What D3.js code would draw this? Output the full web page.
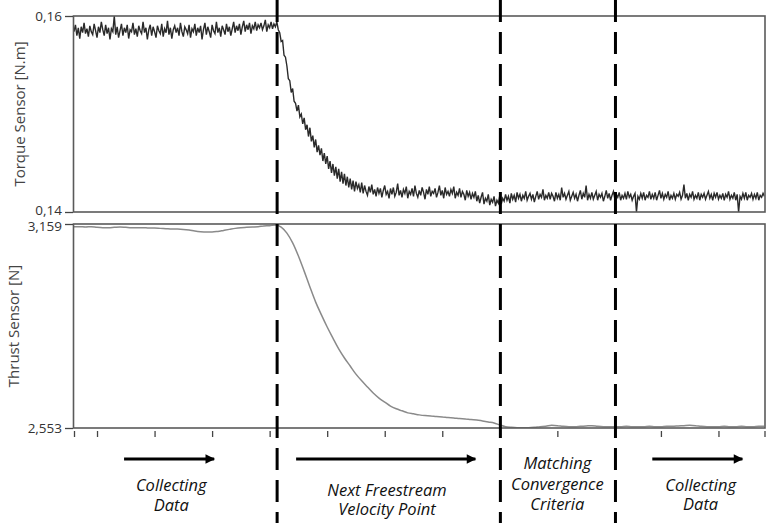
<!DOCTYPE html>
<html><head><meta charset="utf-8">
<script src="https://cdn.jsdelivr.net/npm/d3@7"></script>
<style>body{margin:0;background:#fff}svg{display:block}</style>
</head><body>
<svg id="c" width="766" height="523"></svg>
<script>
// ---------------- DATA ----------------
const timeDomain = [0, 120];
const timeTicks = [0, 4, 14, 24, 34, 44, 54, 64, 74, 84, 94, 102, 112, 120];

const torqueDomain = [0.14, 0.16];
const torqueTicks = [0.14, 0.16];
const torqueTickLabels = ["0,14", "0,16"];
const torqueTitle = "Torque Sensor [N.m]";

const thrustDomain = [2.553, 3.159];
const thrustTicks = [2.553, 3.159];
const thrustTickLabels = ["2,553", "3,159"];
const thrustTitle = "Thrust Sensor [N]";

const torqueStep = 0.25; // s between torque samples
const torque = [
  .1584,.1591,.1580,.1588,.1577,.1589,.1583,.1593,.1582,.1587,
  .1579,.1590,.1584,.1581,.1592,.1585,.1578,.1589,.1583,.1594,
  .1586,.1580,.1591,.1582,.1588,.1576,.1587,.1584,.1600,.1581,
  .1589,.1578,.1585,.1592,.1580,.1588,.1583,.1591,.1577,.1586,
  .1584,.1593,.1581,.1587,.1579,.1590,.1585,.1582,.1594,.1583,
  .1588,.1576,.1586,.1591,.1580,.1589,.1584,.1578,.1590,.1585,
  .1582,.1592,.1579,.1587,.1583,.1595,.1581,.1588,.1577,.1586,
  .1590,.1583,.1588,.1580,.1593,.1584,.1579,.1589,.1586,.1582,
  .1591,.1578,.1587,.1584,.1592,.1580,.1588,.1583,.1590,.1576,
  .1586,.1593,.1581,.1589,.1584,.1578,.1591,.1585,.1582,.1594,
  .1583,.1588,.1579,.1590,.1586,.1581,.1592,.1584,.1589,.1580,
  .1587,.1594,.1583,.1590,.1585,.1592,.1581,.1589,.1595,.1584,
  .1591,.1586,.1593,.1582,.1590,.1587,.1594,.1585,.1591,.1588,
  .1593,.1586,.1590,.1596,.1584,.1591,.1588,.1594,.1587,.1592,
  .1589,.1594,
  .1586,.1583,.1574,.1575,.1560,.1558,.1549,.1536,.1534,.1522,
  .1526,.1513,.1511,.1503,.1509,.1497,.1500,.1490,.1496,.1484,
  .1489,.1477,.1486,.1472,.1478,.1466,.1474,.1461,.1468,.1458,
  .1465,.1452,.1460,.1449,.1457,.1444,.1452,.1440,.1449,.1437,
  .1446,.1434,.1444,.1431,.1441,.1429,.1439,.1427,.1436,.1425,
  .1434,.1423,.1432,.1421,.1431,.1424,.1428,.1420,.1430,
  .1419,.1427,.1421,.1417,.1426,.1420,.1428,.1418,.1423,.1416,
  .1425,.1419,.1424,.1415,.1422,.1427,.1418,.1421,.1414,.1424,
  .1418,.1425,.1416,.1420,.1429,.1417,.1422,.1415,.1423,.1419,
  .1426,.1414,.1421,.1418,.1424,.1416,.1427,.1419,.1415,.1422,
  .1417,.1425,.1420,.1413,.1423,.1418,.1426,.1416,.1421,.1419,
  .1424,.1415,.1420,.1427,.1417,.1422,.1414,.1425,.1418,.1421,
  .1416,.1423,.1419,.1426,.1414,.1420,.1417,.1424,.1415,.1421,
  .1418,.1412,.1422,.1416,.1420,.1413,.1419,.1415,.1421,.1411,
  .1417,.1409,.1415,.1420,.1408,.1414,.1411,.1418,.1407,.1413,
  .1410,.1416,.1406,.1412,.1409,.1417,.1408,.1414,.1411,.1418,
  .1412,.1416,.1409,.1419,.1413,.1417,.1410,.1420,.1414,.1418,
  .1411,.1417,.1414,.1421,.1412,.1416,.1419,.1413,.1418,.1410,
  .1416,.1421,.1413,.1418,.1415,.1423,.1412,.1417,.1414,.1420,
  .1413,.1419,.1416,.1411,.1420,.1414,.1418,.1412,.1425,.1415,
  .1419,.1413,.1417,.1421,.1412,.1416,.1420,.1414,.1418,.1411,
  .1417,.1422,.1413,.1419,.1415,.1427,.1412,.1418,.1414,.1420,
  .1413,.1417,.1421,.1412,.1418,.1415,.1419,.1411,.1416,.1422,
  .1414,.1419,.1412,.1417,.1421,.1413,.1418,.1415,.1420,.1412,
  .1417,.1414,.1419,.1413,.1421,.1415,.1418,.1412,.1416,.1419,
  .1400,.1416,.1413,.1419,.1414,.1420,.1412,.1417,.1415,.1421,
  .1413,.1418,.1414,.1420,.1412,.1417,.1422,.1414,.1419,.1413,
  .1418,.1415,.1421,.1412,.1417,.1414,.1419,.1413,.1418,.1416,
  .1420,.1413,.1417,.1428,.1414,.1419,.1412,.1418,.1415,.1421,
  .1413,.1417,.1414,.1420,.1412,.1418,.1415,.1419,.1413,.1417,
  .1421,.1414,.1418,.1412,.1419,.1415,.1420,.1413,.1417,.1414,
  .1419,.1412,.1418,.1415,.1421,.1413,.1417,.1414,.1420,.1412,
  .1418,.1400,.1416,.1413,.1419,.1414,.1420,.1412,.1417,.1415,
  .1419,.1413,.1418,.1414,.1420,.1412,.1417,.1415,.1419,.1416
];

const thrustStep = 1; // s between thrust samples
const thrust = [
  3.151,3.151,3.150,3.151,3.149,3.148,3.148,3.149,3.150,3.149,
  3.148,3.148,3.148,3.147,3.147,3.146,3.145,3.144,3.144,3.143,
  3.141,3.138,3.136,3.135,3.135,3.137,3.140,3.143,3.146,3.148,
  3.149,3.150,3.151,3.153,3.154,3.156,
  3.150,3.132,3.103,3.064,3.019,2.972,2.927,2.889,2.853,2.820,
  2.788,2.761,2.737,2.713,2.693,2.675,2.657,2.642,2.630,2.618,
  2.610,2.604,2.598,2.595,2.592,2.590,2.589,2.587,2.586,2.584,
  2.583,2.581,2.580,2.578,2.577,2.574,2.571,2.568,2.562,2.557,
  2.555,
  2.554,2.554,2.554,2.555,2.557,2.558,2.561,2.560,2.558,2.557,
  2.557,2.558,2.559,2.560,2.558,2.557,2.557,2.557,2.557,2.558,
  2.557,2.557,2.557,2.558,2.557,2.557,2.558,2.558,2.559,2.560,
  2.561,2.560,2.558,2.557,2.557,2.557,2.558,2.557,2.557,2.558,
  2.557,2.557,2.558,2.558
];

const phaseBoundaries = [35.3, 74.1, 94.1];
const phaseLabels = [
  ["Collecting", "Data"],
  ["Next Freestream", "Velocity Point"],
  ["Matching", "Convergence", "Criteria"],
  ["Collecting", "Data"]
];
const phaseCenters = [16.9, 54.4, 84.0, 108.9];
const phaseArrows = [[8.7, 24.7], [38.6, 70.1], null, [100.5, 116.5]];

// ---------------- LAYOUT ----------------
const svg = d3.select("#c");
const L = 74, R = 764.5;
const top1 = 16, bot1 = 212, top2 = 224, bot2 = 428;
const x = d3.scaleLinear().domain(timeDomain).range([L, R]);
const yT = d3.scaleLinear().domain(torqueDomain).range([bot1, top1]);
const yF = d3.scaleLinear().domain(thrustDomain).range([bot2, top2]);
const tickFont = "'Open Sans', 'DejaVu Sans', sans-serif";

const defs = svg.append("defs");
defs.append("clipPath").attr("id", "clip1").append("rect")
  .attr("x", L).attr("y", top1).attr("width", R - L).attr("height", bot1 - top1);
defs.append("clipPath").attr("id", "clip2").append("rect")
  .attr("x", L).attr("y", top2).attr("width", R - L).attr("height", bot2 - top2);

// traces
svg.append("path")
  .datum(torque)
  .attr("clip-path", "url(#clip1)")
  .attr("fill", "none").attr("stroke", "#2a2a2a").attr("stroke-width", 1.4)
  .attr("d", d3.line().x((d, i) => x(i * torqueStep)).y(d => yT(d)));

svg.append("path")
  .datum(thrust)
  .attr("clip-path", "url(#clip2)")
  .attr("fill", "none").attr("stroke", "#8a8a8a").attr("stroke-width", 1.5)
  .attr("d", d3.line().curve(d3.curveMonotoneX).x((d, i) => x(i * thrustStep)).y(d => yF(d)));

// frames
[[top1, bot1], [top2, bot2]].forEach(([t, b]) => {
  svg.append("rect").attr("x", L - 0.5).attr("y", t).attr("width", R - L + 1).attr("height", b - t)
    .attr("fill", "none").attr("stroke", "#5a5a5a").attr("stroke-width", 1.6);
});

// y axes
function yAxis(scale, ticks, labels, nudge) {
  const g = svg.append("g").attr("transform", `translate(${L - 1},0)`)
    .call(d3.axisLeft(scale).tickValues(ticks).tickSize(8).tickPadding(3)
      .tickFormat((d, i) => labels[i]));
  g.select(".domain").remove();
  g.selectAll(".tick line").attr("stroke", "#444").attr("stroke-width", 1.3);
  g.selectAll(".tick text").attr("fill", "#333")
    .attr("y", (d, i) => nudge[i])
    .style("font-family", tickFont).style("font-size", "13.5px");
  return g;
}
yAxis(yT, torqueTicks, torqueTickLabels, [-2, 0]);
yAxis(yF, thrustTicks, thrustTickLabels, [0, 2]);

// y titles
svg.append("text").attr("transform", `translate(25,${(top1 + bot1) / 2}) rotate(-90)`)
  .attr("text-anchor", "middle").attr("fill", "#444")
  .style("font-family", tickFont).style("font-size", "15px").text(torqueTitle);
svg.append("text").attr("transform", `translate(19,${(top2 + bot2) / 2}) rotate(-90)`)
  .attr("text-anchor", "middle").attr("fill", "#444")
  .style("font-family", tickFont).style("font-size", "15px").text(thrustTitle);

// x axis ticks (no labels)
const gx = svg.append("g").attr("transform", `translate(0,${bot2 + 3})`)
  .call(d3.axisBottom(x).tickValues(timeTicks).tickSize(6).tickFormat(""));
gx.select(".domain").remove();
gx.selectAll(".tick line").attr("stroke", "#444").attr("stroke-width", 1.3);

// phase boundaries
svg.selectAll("line.phase").data(phaseBoundaries).enter().append("line")
  .attr("class", "phase")
  .attr("x1", d => x(d)).attr("x2", d => x(d))
  .attr("y1", 0).attr("y2", 523)
  .attr("stroke", "#000").attr("stroke-width", 3)
  .attr("stroke-dasharray", "22,10");

// arrows
defs.append("marker").attr("id", "ah").attr("viewBox", "0 0 10 10")
  .attr("refX", 9).attr("refY", 5).attr("markerWidth", 4).attr("markerHeight", 3.2)
  .attr("markerUnits", "strokeWidth").attr("orient", "auto")
  .append("path").attr("d", "M0,0L10,5L0,10Z").attr("fill", "#000");
const arrowY = 459;
phaseArrows.forEach(a => {
  if (!a) return;
  svg.append("line").attr("x1", x(a[0])).attr("x2", x(a[1]) - 2)
    .attr("y1", arrowY).attr("y2", arrowY)
    .attr("stroke", "#000").attr("stroke-width", 3).attr("marker-end", "url(#ah)");
});

// phase labels (one text block per phase, one tspan per line)
const baselines = [[491, 511], [496, 515], [469, 490, 510], [491, 510]];
phaseLabels.forEach((lines, k) => {
  const t = svg.append("text")
    .attr("text-anchor", "middle").attr("fill", "#111")
    .style("font-family", tickFont).style("font-style", "italic").style("font-size", "16.5px");
  lines.forEach((s, j) => {
    t.append("tspan").attr("x", x(phaseCenters[k])).attr("y", baselines[k][j]).text(s);
  });
});
</script>
</body></html>
